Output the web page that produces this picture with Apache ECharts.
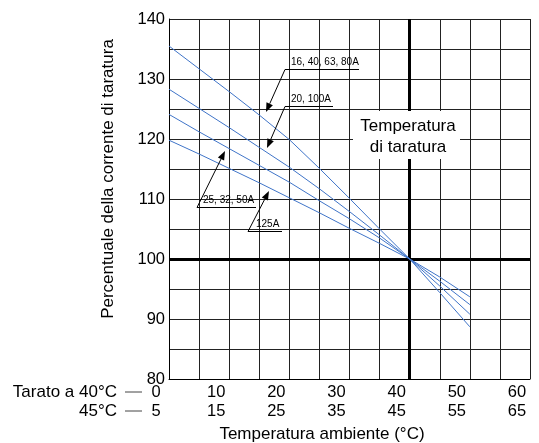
<!DOCTYPE html>
<html>
<head>
<meta charset="utf-8">
<script src="https://cdn.jsdelivr.net/npm/echarts@6/dist/echarts.min.js"></script>
<style>
  html, body { margin: 0; padding: 0; background: #fff; }
  #chart { width: 539px; height: 443px; }
</style>
</head>
<body>
<div id="chart"></div>
<script>
// temperatura ambiente (tarato a 40°C)
const temps = [0, 5, 10, 15, 20, 25, 30, 35, 40, 45, 50];
// percentuale della corrente di taratura per ciascuna famiglia
const curve16_80A = [135.5, 131.7, 127.9, 124.0, 119.9, 115.1, 110.1, 105.0, 100, 94.4, 88.7];
const curve20_100A = [128.3, 125.1, 121.9, 118.6, 115.3, 111.7, 107.9, 104.0, 100, 95.5, 90.8];
const curve25_50A = [124.1, 121.2, 118.4, 115.6, 112.8, 109.7, 106.7, 103.5, 100, 96.3, 92.4];
const curve125A = [119.8, 117.5, 115.1, 112.7, 110.2, 107.7, 105.1, 102.6, 100, 97.0, 93.7];
const xOffset45 = 5; // seconda scala: tarato a 45°C

const FONT = '"Liberation Sans", Arial, sans-serif';
const BLUE = '#3f74c8';

function toPairs(ys) {
    return temps.map((t, i) => [t, ys[i]]);
}

// freccia con linea guida
function arrow(sx, sy, tx, ty) {
    const dx = tx - sx, dy = ty - sy;
    const len = Math.hypot(dx, dy);
    const ux = dx / len, uy = dy / len;
    const hl = 9, hw = 3.5;
    const bx = tx - ux * hl, by = ty - uy * hl;
    return [
        { type: 'line', z: 100, shape: { x1: sx, y1: sy, x2: bx, y2: by }, style: { stroke: '#000', lineWidth: 1 } },
        { type: 'polygon', z: 100, shape: { points: [[tx, ty], [bx - uy * hw, by + ux * hw], [bx + uy * hw, by - ux * hw]] }, style: { fill: '#000' } }
    ];
}

// etichetta sottolineata
function label(text, tx, ty, ux1, ux2, uy) {
    return [
        { type: 'text', z: 100, x: tx, y: ty, style: { text: text, font: '10px ' + FONT, fill: '#000', textVerticalAlign: 'middle' } },
        { type: 'line', z: 100, shape: { x1: ux1, y1: uy, x2: ux2, y2: uy }, style: { stroke: '#000', lineWidth: 1 } }
    ];
}

const graphics = [].concat(
    label('16, 40, 63, 80A', 291, 62.5, 285, 359, 69.5),
    arrow(285, 69.5, 266, 112),
    label('20, 100A', 291, 99.5, 285, 333, 106.5),
    arrow(285, 106.5, 267, 148),
    label('25, 32, 50A', 203, 200.5, 197, 256, 207.5),
    arrow(197, 207.5, 225, 151),
    label('125A', 256, 224.5, 248, 282, 231.5),
    arrow(248, 231.5, 269, 191),
    [
        { type: 'rect', z: 90, shape: { x: 353, y: 111, width: 107, height: 48 }, style: { fill: '#fff' } },
        { type: 'text', z: 100, x: 408, y: 126, style: { text: 'Temperatura', font: '17px ' + FONT, fill: '#000', textAlign: 'center', textVerticalAlign: 'middle' } },
        { type: 'text', z: 100, x: 408, y: 147, style: { text: 'di taratura', font: '17px ' + FONT, fill: '#000', textAlign: 'center', textVerticalAlign: 'middle' } },
        // nomi degli assi
        { type: 'text', z: 100, x: 108, y: 179, rotation: Math.PI / 2, style: { text: 'Percentuale della corrente di taratura', font: '17px ' + FONT, fill: '#000', textAlign: 'center', textVerticalAlign: 'middle' } },
        { type: 'text', z: 100, x: 322, y: 434, style: { text: 'Temperatura ambiente (°C)', font: '17px ' + FONT, fill: '#000', textAlign: 'center', textVerticalAlign: 'middle' } },
        // legenda delle due scale
        { type: 'text', z: 100, x: 117, y: 392, style: { text: 'Tarato a 40°C', font: '17px ' + FONT, fill: '#000', textAlign: 'right', textVerticalAlign: 'middle' } },
        { type: 'text', z: 100, x: 117, y: 411, style: { text: '45°C', font: '17px ' + FONT, fill: '#000', textAlign: 'right', textVerticalAlign: 'middle' } },
        { type: 'line', z: 100, shape: { x1: 125, y1: 392, x2: 142, y2: 392 }, style: { stroke: '#444', lineWidth: 1 } },
        { type: 'line', z: 100, shape: { x1: 125, y1: 411, x2: 142, y2: 411 }, style: { stroke: '#444', lineWidth: 1 } }
    ]
);

function curveSeries(name, ys, extra) {
    return Object.assign({
        name: name,
        type: 'line',
        data: toPairs(ys),
        symbol: 'none',
        z: 5,
        lineStyle: { color: BLUE, width: 1 }
    }, extra || {});
}

const chart = echarts.init(document.getElementById('chart'));
chart.setOption({
    animation: false,
    textStyle: { fontFamily: FONT },
    grid: { left: 169, right: 9, top: 19, bottom: 64, containLabel: false, outerBoundsMode: 'none' },
    xAxis: {
        type: 'value',
        min: 0,
        max: 60,
        interval: 5,
        axisLine: { show: true, lineStyle: { color: '#000', width: 1 } },
        axisTick: { show: false },
        splitLine: { show: true, lineStyle: { color: '#222', width: 1 } },
        axisLabel: {
            color: '#000',
            fontSize: 16.5,
            lineHeight: 19,
            margin: 4,
            padding: [0, 26, 0, 0],
            formatter: v => (v % 10 === 0 ? v + '\n' + (v + xOffset45) : '')
        }
    },
    yAxis: {
        type: 'value',
        min: 80,
        max: 140,
        interval: 5,
        axisLine: { show: true, lineStyle: { color: '#000', width: 1 } },
        axisTick: { show: false },
        splitLine: { show: true, lineStyle: { color: '#222', width: 1 } },
        axisLabel: {
            color: '#000',
            fontSize: 16.5,
            margin: 4,
            formatter: v => (v % 10 === 0 ? String(v) : '')
        }
    },
    series: [
        curveSeries('16, 40, 63, 80A', curve16_80A, {
            markLine: {
                silent: true,
                symbol: 'none',
                label: { show: false },
                z: 3,
                lineStyle: { color: '#000', width: 3, type: 'solid' },
                data: [{ xAxis: 40 }, { yAxis: 100 }]
            }
        }),
        curveSeries('20, 100A', curve20_100A),
        curveSeries('25, 32, 50A', curve25_50A),
        curveSeries('125A', curve125A)
    ],
    graphic: { elements: graphics }
});
</script>
</body>
</html>
